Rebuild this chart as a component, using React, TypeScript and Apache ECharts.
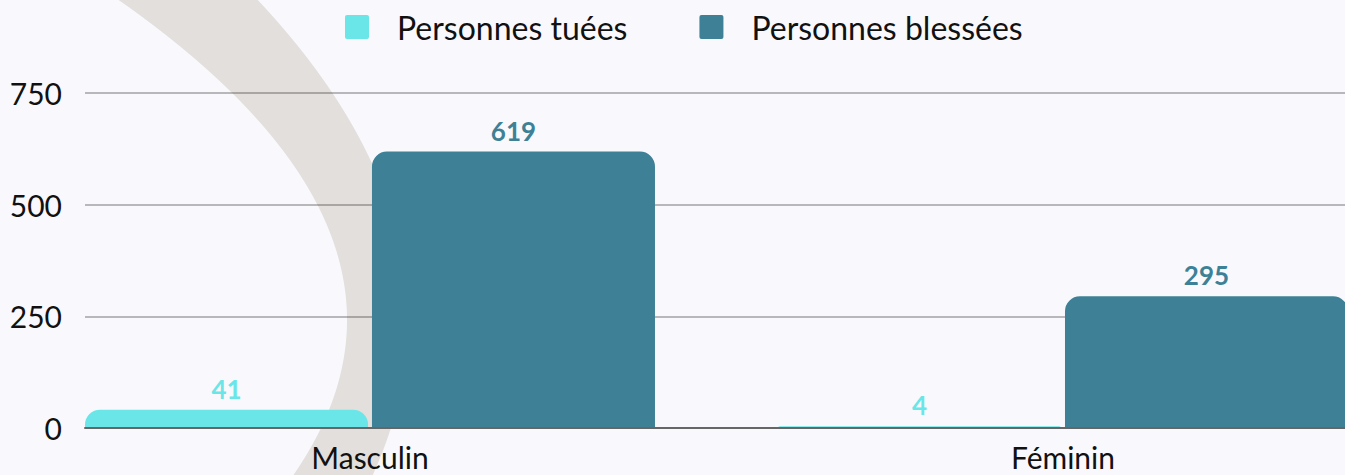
import React, { useEffect, useRef } from "react";
import * as echarts from "echarts";

const categories = ["Masculin", "Féminin"];
const seriesNames = ["Personnes tuées", "Personnes blessées"];
const tuees = [41, 4];
const blessees = [619, 295];
const yTicks = [0, 250, 500, 750];

const FONT = "Lato, 'Noto Sans', sans-serif";
const SQUARE_ICON =
  "path://M2,0H22A2,2 0 0 1 24,2V22A2,2 0 0 1 22,24H2A2,2 0 0 1 0,22V2A2,2 0 0 1 2,0Z";

// decorative background band (two parabolic edges)
function bandPoints(): number[][] {
  const outer: number[][] = [];
  const inner: number[][] = [];
  for (let y = -80; y <= 560; y += 4) {
    const d = y - 320;
    outer.push([408 - 0.001467 * d * d, y]);
    inner.push([347 - 0.00223 * d * d, y]);
  }
  return [...outer, ...inner.reverse()];
}

export default function App() {
  const ref = useRef<HTMLDivElement>(null);
  useEffect(() => {
    if (!ref.current) return;
    const chart = echarts.init(ref.current, undefined, { renderer: "svg" });
    chart.setOption({
      animation: false,
      backgroundColor: "#f9f9fd",
      textStyle: { fontFamily: FONT },
      graphic: [
        {
          type: "polygon",
          z: -1,
          silent: true,
          shape: { points: bandPoints() },
          style: { fill: "#e3dfdc" },
        },
      ],
      legend: {
        left: 340,
        top: 6,
        itemWidth: 24,
        itemHeight: 24,
        itemGap: 72,
        icon: SQUARE_ICON,
        data: seriesNames,
        textStyle: {
          fontSize: 32,
          lineHeight: 24,
          color: "#111",
          fontFamily: FONT,
          padding: [0, 0, 0, 23],
        },
      },
      grid: [
        { left: 85, right: 0, top: 93, bottom: 47, outerBoundsMode: "none" },
        { left: 23.5, width: 1386, top: 93, bottom: 47, outerBoundsMode: "none" },
      ],
      xAxis: [
        {
          type: "category",
          gridIndex: 0,
          data: categories,
          axisLine: { lineStyle: { color: "#666", width: 2 } },
          axisTick: { show: false },
          axisLabel: { show: false },
          z: 5,
        },
        {
          type: "category",
          gridIndex: 1,
          data: categories,
          axisLine: { show: false },
          axisTick: { show: false },
          axisLabel: { fontSize: 30, lineHeight: 26, color: "#111", margin: 16, fontFamily: FONT },
        },
      ],
      yAxis: [
        {
          type: "value",
          gridIndex: 0,
          min: yTicks[0],
          max: yTicks[yTicks.length - 1],
          interval: 250,
          axisLine: { show: false },
          axisTick: { show: false },
          axisLabel: { fontSize: 30, color: "#111", margin: 23, fontFamily: FONT },
          splitLine: { lineStyle: { color: "rgba(0,0,0,0.26)", width: 2 } },
        },
        {
          type: "value",
          gridIndex: 1,
          min: 0,
          max: 750,
          show: false,
          splitLine: { show: false },
        },
      ],
      series: [
        {
          name: seriesNames[0],
          type: "bar",
          xAxisIndex: 1,
          yAxisIndex: 1,
          data: tuees,
          barWidth: 283,
          barGap: "1.4%",
          itemStyle: { color: "#6ae6e8", borderRadius: [15, 15, 0, 0] },
          label: {
            show: true,
            position: "top",
            distance: 8,
            color: "#6ae6e8",
            fontSize: 26,
            fontWeight: "bold",
            fontFamily: FONT,
          },
        },
        {
          name: seriesNames[1],
          type: "bar",
          xAxisIndex: 1,
          yAxisIndex: 1,
          data: blessees,
          barWidth: 283,
          barGap: "1.4%",
          itemStyle: { color: "#3e8197", borderRadius: [15, 15, 0, 0] },
          label: {
            show: true,
            position: "top",
            distance: 8,
            color: "#3e8197",
            fontSize: 26,
            fontWeight: "bold",
            fontFamily: FONT,
          },
        },
      ],
    });
    return () => chart.dispose();
  }, []);
  return (
    <div
      ref={ref}
      style={{ position: "fixed", left: 0, top: 0, width: 1345, height: 475 }}
    />
  );
}
